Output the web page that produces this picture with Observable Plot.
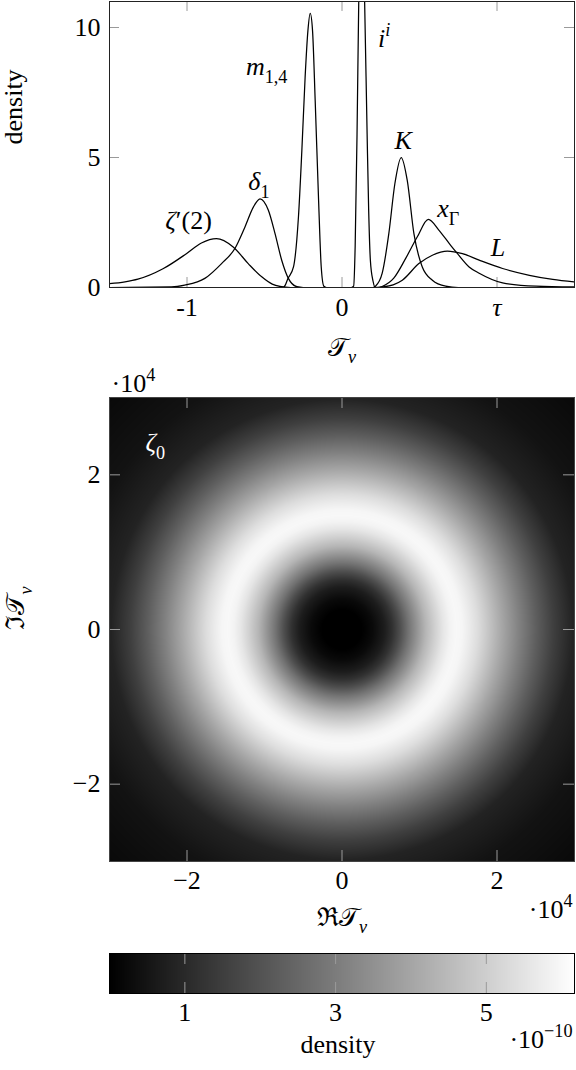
<!DOCTYPE html>
<html><head><meta charset="utf-8">
<script src="https://cdn.jsdelivr.net/npm/d3@7"></script>
<script src="https://cdn.jsdelivr.net/npm/@observablehq/plot@0.6"></script>
<style>
html,body{margin:0;padding:0;background:#fff;}
#wrap{position:relative;width:576px;height:1070px;overflow:hidden;background:#fff;}
#wrap svg{position:absolute;left:0;}
#wrap svg, #wrap svg text, #wrap svg tspan{font-family:"Liberation Serif", "DejaVu Serif", serif !important;}
</style></head><body><div id="wrap"></div>
<script>
// ---------- Top panel: density curves ----------
const zeta2X = [-1.5, -1.4, -1.317, -1.155, -1.004, -0.907, -0.81, -0.702, -0.605, -0.518, -0.45, -0.40, -0.33, 1.5];
const zeta2Y = [0.15, 0.22, 0.32, 0.72, 1.30, 1.71, 1.88, 1.56, 0.92, 0.41, 0.13, 0.04, 0, 0];
const delta1X = [-1.5, -1.1, -1.015, -0.885, -0.777, -0.691, -0.626, -0.572, -0.529, -0.475, -0.432, -0.389, -0.346, -0.291, -0.25, 1.5];
const delta1Y = [0, 0.02, 0.09, 0.35, 0.92, 1.50, 2.33, 3.09, 3.41, 2.97, 2.07, 1.05, 0.35, 0.03, 0, 0];
const m14X = [-1.5, -0.38, -0.367, -0.35, -0.313, -0.281, -0.259, -0.238, -0.22, -0.205, -0.19, -0.173, -0.151, -0.134, -0.117, -0.10, 1.5];
const m14Y = [0, 0, 0.08, 0.33, 0.79, 2.71, 5.27, 8.08, 9.87, 10.54, 9.87, 7.19, 3.35, 0.79, 0.05, 0, 0];
const iiX = [-1.5, 0.06, 0.075, 0.085, 0.097, 0.108, 0.127, 0.146, 0.162, 0.172, 0.183, 0.2, 0.216, 0.24, 1.5];
const iiY = [0, 0, 0.05, 1.6, 5.9, 11, 15.2, 11, 5.9, 3.0, 1.05, 0.25, 0, 0, 0];
const kX = [-1.5, 0.2, 0.216, 0.259, 0.302, 0.341, 0.382, 0.421, 0.464, 0.518, 0.583, 0.669, 0.75, 1.5];
const kY = [0, 0, 0.05, 0.54, 2.07, 3.99, 5.0, 4.12, 2.07, 0.79, 0.28, 0.05, 0, 0];
const xGammaX = [-1.5, 0.24, 0.259, 0.334, 0.41, 0.486, 0.557, 0.626, 0.701, 0.745, 0.82, 0.885, 1.036, 1.252, 1.5];
const xGammaY = [0, 0, 0.04, 0.36, 1.11, 1.95, 2.62, 2.20, 1.62, 1.30, 0.79, 0.55, 0.18, 0.05, 0.02];
const lX = [-1.5, 0.2, 0.26, 0.33, 0.389, 0.496, 0.583, 0.68, 0.777, 0.885, 1.036, 1.209, 1.36, 1.5];
const lY = [0, 0, 0.02, 0.1, 0.28, 0.92, 1.24, 1.40, 1.30, 1.05, 0.73, 0.47, 0.31, 0.21];

const curveNames  = ["$ζ′(2)", "$δ_{1}", "$m_{1,4}", "$i^{i}", "$K", "$x_{Γ}", "$L"];
const curveLabelX = [-0.99, -0.536, -0.486, 0.272, 0.394, 0.685, 1.006];
const curveLabelY = [2.58, 4.08, 8.5, 9.58, 5.65, 3.04, 1.54];

const topXTicks = [-1, 0, 1];
const topXTickLabels = ["-1", "0", "$τ"];
const topYTicks = [0, 5, 10];

// ---------- Bottom panel: ring density (radial profile, r in 1e4, density in 1e-10) ----------
const ringRadius  = [0, 0.25, 0.4, 0.55, 0.65, 0.75, 0.86, 0.97, 1.08, 1.2, 1.3, 1.4, 1.47, 1.55, 1.64, 1.75, 1.86, 2.07, 2.29, 2.5, 2.72, 2.98, 3.5, 4.3];
const ringDensity = [0, 0, 0.25, 0.7, 1.2, 1.9, 2.8, 3.6, 4.4, 5.05, 5.55, 5.9, 6.0, 5.95, 5.7, 5.35, 4.9, 4.0, 3.1, 2.3, 1.55, 0.85, 0.45, 0.2];
const heatTicks = [-20000, 0, 20000];
const heatTickLabels = ["−2", "0", "2"];
const colorMax = 6.17;
const colorTicks = [1, 3, 5];

// ---------- helpers ----------
const FONT = "Liberation Serif, DejaVu Serif, serif";
const baseStyle = {fontFamily: FONT, fontSize: "26px", background: "transparent", overflow: "visible", color: "black"};
const TICK = "#9a9a9a";

function texify(svg) {
  svg.querySelectorAll("text").forEach(t => {
    t.setAttribute("font-family", FONT);
    const s = t.textContent;
    if (!s.startsWith("$")) return;
    const src = s.slice(1);
    const segs = []; let i = 0;
    const isMark = j => (src[j] === "_" || src[j] === "^") && src[j + 1] === "{";
    while (i < src.length) {
      if (isMark(i)) {
        const j = src.indexOf("}", i);
        segs.push({text: src.slice(i + 2, j), lvl: src[i] === "_" ? -1 : 1});
        i = j + 1;
      } else {
        let j = i; while (j < src.length && !isMark(j)) j++;
        segs.push({text: src.slice(i, j), lvl: 0});
        i = j;
      }
    }
    const fs = parseFloat(getComputedStyle(t).fontSize) || 26;
    t.textContent = "";
    let cur = 0;
    for (const seg of segs) {
      const off = seg.lvl === -1 ? 0.3 * fs : seg.lvl === 1 ? -0.42 * fs : 0;
      const size = seg.lvl ? 0.7 * fs : fs;
      const runs = [];
      for (const ch of Array.from(seg.text)) {
        const it = /[A-Za-zα-ω]/.test(ch);
        if (runs.length && runs[runs.length - 1].it === it) runs[runs.length - 1].s += ch;
        else runs.push({s: ch, it});
      }
      runs.forEach((r, k) => {
        const ts = document.createElementNS("http://www.w3.org/2000/svg", "tspan");
        ts.textContent = r.s;
        if (r.it) ts.setAttribute("font-style", "italic");
        ts.setAttribute("font-size", size);
        if (k === 0 && off !== cur) { ts.setAttribute("dy", off - cur); cur = off; }
        t.appendChild(ts);
      });
    }
  });
}

const wrap = document.getElementById("wrap");
function place(svg, top) { svg.style.top = top + "px"; wrap.appendChild(svg); texify(svg); }

// ---------- Top plot ----------
const series = [
  {name: "zeta2", x: zeta2X, y: zeta2Y},
  {name: "delta1", x: delta1X, y: delta1Y},
  {name: "m14", x: m14X, y: m14Y},
  {name: "ii", x: iiX, y: iiY},
  {name: "K", x: kX, y: kY},
  {name: "xGamma", x: xGammaX, y: xGammaY},
  {name: "L", x: lX, y: lY}
];
const curveRows = series.flatMap(s => s.x.map((x, i) => ({series: s.name, x, y: s.y[i]})));
const labelRows = curveNames.map((t, i) => ({t, x: curveLabelX[i], y: curveLabelY[i]}));

const T_H = 368, T_MT = 1, T_MB = 81, T_FH = T_H - T_MT - T_MB;
const topPlot = Plot.plot({
  width: 576, height: T_H,
  marginLeft: 109, marginRight: 2, marginTop: T_MT, marginBottom: T_MB,
  style: baseStyle,
  x: {domain: [-1.5, 1.5]},
  y: {domain: [0, 11]},
  marks: [
    Plot.tickX(topXTicks, {x: d => d, insetTop: T_FH - 10, stroke: TICK}),
    Plot.tickX(topXTicks, {x: d => d, insetBottom: T_FH - 10, stroke: TICK}),
    Plot.tickY(topYTicks, {y: d => d, insetRight: 465 - 10, stroke: TICK}),
    Plot.tickY(topYTicks, {y: d => d, insetLeft: 465 - 10, stroke: TICK}),
    Plot.line(curveRows, {x: "x", y: "y", z: "series", curve: "monotone-x", stroke: "black", strokeWidth: 1.25, clip: true}),
    Plot.frame({stroke: "#222", strokeWidth: 1}),
    Plot.text(labelRows, {x: "x", y: "y", text: "t", fill: "black"}),
    Plot.axisX(topXTicks, {tickSize: 0, tickPadding: 10, tickFormat: d => topXTickLabels[topXTicks.indexOf(d)], label: null}),
    Plot.axisY(topYTicks, {tickSize: 0, tickPadding: 9, label: null}),
    Plot.text(["density"], {frameAnchor: "left", dx: -96, rotate: -90, text: d => d}),
    Plot.text(["$𝒯_{ν}"], {frameAnchor: "bottom", dy: 68, text: d => d})
  ]
});
place(topPlot, 0);

// ---------- Heatmap ----------
const ring = d3.scaleLinear().domain(ringRadius.map(r => r * 1e4)).range(ringDensity).clamp(true);
const colorScale = {type: "linear", domain: [0, colorMax], range: ["#000000", "#ffffff"]};
const H_H = 600, H_MT = 37, H_MB = 99, H_FH = H_H - H_MT - H_MB, H_FW = 465;
const heat = Plot.plot({
  width: 576, height: H_H,
  marginLeft: 109, marginRight: 2, marginTop: H_MT, marginBottom: H_MB,
  style: baseStyle,
  x: {domain: [-30000, 30000]},
  y: {domain: [-30000, 30000]},
  color: colorScale,
  marks: [
    Plot.raster({x1: -30000, x2: 30000, y1: -30000, y2: 30000, fill: (x, y) => ring(Math.hypot(x, y)), pixelSize: 1}),
    Plot.tickX(heatTicks, {x: d => d, insetTop: H_FH - 11, stroke: TICK}),
    Plot.tickX(heatTicks, {x: d => d, insetBottom: H_FH - 11, stroke: TICK}),
    Plot.tickY(heatTicks, {y: d => d, insetRight: H_FW - 11, stroke: TICK}),
    Plot.tickY(heatTicks, {y: d => d, insetLeft: H_FW - 11, stroke: TICK}),
    Plot.frame({stroke: "#444", strokeWidth: 1}),
    Plot.text(["$ζ_{0}"], {x: -24100, y: 24100, text: d => d, fill: "white"}),
    Plot.axisX(heatTicks, {tickSize: 0, tickPadding: 9, tickFormat: d => heatTickLabels[heatTicks.indexOf(d)], label: null}),
    Plot.axisY(heatTicks, {tickSize: 0, tickPadding: 9, tickFormat: d => heatTickLabels[heatTicks.indexOf(d)], label: null}),
    Plot.text(["$ℑ𝒯_{ν}"], {frameAnchor: "left", dx: -94, rotate: -90, text: d => d}),
    Plot.text(["$ℜ𝒯_{ν}"], {frameAnchor: "bottom", dy: 64, text: d => d}),
    Plot.text(["$·10^{4}"], {frameAnchor: "bottom-right", textAnchor: "end", dx: -2, dy: 56, text: d => d}),
    Plot.text(["$·10^{4}"], {frameAnchor: "top-left", textAnchor: "start", dx: 2, dy: -24, text: d => d})
  ]
});
place(heat, 360);

// ---------- Colorbar ----------
const C_H = 130, C_MT = 13, C_MB = 77, C_FH = C_H - C_MT - C_MB;
const cbar = Plot.plot({
  width: 576, height: C_H,
  marginLeft: 109, marginRight: 2, marginTop: C_MT, marginBottom: C_MB,
  style: baseStyle,
  x: {domain: [0, colorMax]},
  y: {domain: [0, 1], axis: null},
  color: colorScale,
  marks: [
    Plot.raster({x1: 0, x2: colorMax, y1: 0, y2: 1, fill: (x, y) => x, pixelSize: 1}),
    Plot.tickX(colorTicks, {x: d => d, insetTop: C_FH - 11, stroke: TICK}),
    Plot.tickX(colorTicks, {x: d => d, insetBottom: C_FH - 11, stroke: TICK}),
    Plot.frame({stroke: "black", strokeWidth: 1}),
    Plot.axisX(colorTicks, {tickSize: 0, tickPadding: 9, label: null}),
    Plot.text(["density"], {frameAnchor: "bottom", dx: -4, dy: 59, text: d => d}),
    Plot.text(["$·10^{−10}"], {frameAnchor: "bottom-right", textAnchor: "end", dx: -2, dy: 54, text: d => d})
  ]
});
place(cbar, 940);
</script></body></html>
